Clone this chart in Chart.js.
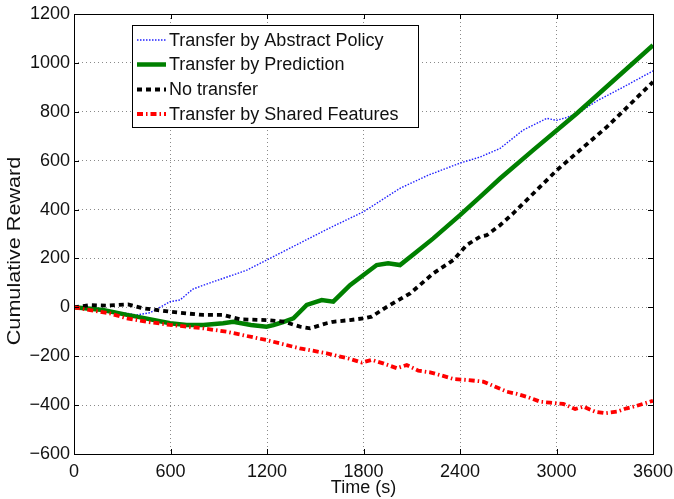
<!DOCTYPE html>
<html>
<head>
<meta charset="utf-8">
<title>Cumulative Reward over Time</title>
<script src="https://cdn.jsdelivr.net/npm/chart.js@4.4.1/dist/chart.umd.min.js"></script>
<style>
  html, body { margin: 0; padding: 0; background: #fff; }
  #wrap { width: 674px; height: 499px; }
</style>
</head>
<body>
<div id="wrap"><canvas id="c" width="674" height="499"></canvas></div>
<script>
// Axis ticks
const xTicks = [0, 600, 1200, 1800, 2400, 3000, 3600];
const yTicks = [-600, -400, -200, 0, 200, 400, 600, 800, 1000, 1200];

// Series: time (s) and cumulative reward
const seriesLabels = [
  'Transfer by Abstract Policy',
  'Transfer by Prediction',
  'No transfer',
  'Transfer by Shared Features'
];

const timeAbstract = [0, 150, 336, 390, 473, 523, 597, 659, 740, 877, 1074, 1200, 1405, 1600, 1800, 2027, 2200, 2400, 2525, 2649, 2792, 2940, 3000, 3066, 3147, 3250, 3415, 3600];
const rewardAbstract = [0, -12, -25, -31, -22, -4, 23, 30, 75, 107, 152, 194, 263, 328, 391, 487, 540, 590, 615, 650, 725, 773, 765, 777, 800, 844, 901, 967];

const timePrediction = [0, 180, 330, 390, 597, 700, 804, 927, 990, 1100, 1197, 1240, 1300, 1364, 1405, 1447, 1540, 1612, 1716, 1800, 1882, 1953, 2027, 2131, 2234, 2400, 2525, 2649, 2855, 3126, 3600];
const rewardPrediction = [0, -11, -31, -38, -65, -72, -72, -65, -59, -72, -79, -73, -60, -45, -18, 10, 30, 23, 91, 132, 173, 180, 173, 227, 282, 377, 452, 527, 643, 793, 1072];

const timeNoTransfer = [0, 100, 203, 336, 430, 597, 700, 804, 927, 1032, 1197, 1300, 1405, 1468, 1571, 1612, 1716, 1800, 1851, 1945, 2090, 2234, 2358, 2442, 2525, 2566, 2649, 2732, 3002, 3313, 3600];
const rewardNoTransfer = [0, 9, 7, 12, -4, -18, -25, -31, -31, -49, -52, -58, -79, -86, -65, -59, -52, -45, -38, 2, 57, 139, 193, 255, 289, 295, 336, 385, 561, 738, 922];

const timeShared = [0, 100, 224, 328, 452, 597, 804, 950, 1197, 1405, 1571, 1716, 1789, 1851, 1922, 2007, 2069, 2141, 2214, 2276, 2359, 2442, 2545, 2608, 2691, 2753, 2825, 2898, 2960, 3043, 3116, 3167, 3240, 3302, 3375, 3437, 3499, 3600];
const rewardShared = [0, -11, -25, -45, -59, -72, -86, -100, -134, -168, -188, -211, -226, -215, -229, -249, -236, -259, -266, -277, -293, -297, -304, -322, -345, -354, -368, -386, -390, -395, -416, -406, -427, -433, -427, -413, -403, -382];

const FONT = "'Liberation Sans', Arial, Helvetica, sans-serif";

function points(ts, vs) { return ts.map((t, i) => ({ x: t, y: vs[i] })); }

const lineStyles = [
  { color: 'rgba(20,20,255,0.95)', width: 1.4, dash: [1.5, 1.5] },
  { color: '#008000', width: 4.5, dash: [] },
  { color: '#000000', width: 3.8, dash: [5, 4] },
  { color: '#ff0000', width: 3.8, dash: [6, 3, 1.5, 3] }
];

const seriesData = [
  points(timeAbstract, rewardAbstract),
  points(timePrediction, rewardPrediction),
  points(timeNoTransfer, rewardNoTransfer),
  points(timeShared, rewardShared)
];

const datasets = seriesData.map((d, i) => ({
  label: seriesLabels[i],
  data: d,
  borderColor: lineStyles[i].color,
  backgroundColor: lineStyles[i].color,
  borderWidth: lineStyles[i].width,
  borderDash: lineStyles[i].dash,
  pointRadius: 0,
  tension: 0,
  fill: false,
  order: 4 - i
}));

// Box around the plot area with inward tick marks on all four sides
const framePlugin = {
  id: 'frame',
  afterDatasetsDraw(chart) {
    const { ctx, chartArea: a, scales } = chart;
    ctx.save();
    ctx.strokeStyle = '#000';
    ctx.lineWidth = 1;
    ctx.setLineDash([]);
    ctx.strokeRect(Math.round(a.left) + 0.5, Math.round(a.top) + 0.5,
                   Math.round(a.right - a.left), Math.round(a.bottom - a.top));
    const len = 5;
    ctx.beginPath();
    xTicks.forEach(v => {
      const px = Math.round(scales.x.getPixelForValue(v)) + 0.5;
      ctx.moveTo(px, a.bottom); ctx.lineTo(px, a.bottom - len);
      ctx.moveTo(px, a.top); ctx.lineTo(px, a.top + len);
    });
    yTicks.forEach(v => {
      const py = Math.round(scales.y.getPixelForValue(v)) + 0.5;
      ctx.moveTo(a.left, py); ctx.lineTo(a.left + len, py);
      ctx.moveTo(a.right, py); ctx.lineTo(a.right - len, py);
    });
    ctx.stroke();
    ctx.restore();
  }
};

// Boxed legend inside the plot, plus the rotated y-axis caption
const legendPlugin = {
  id: 'boxLegend',
  afterDraw(chart) {
    const { ctx } = chart;
    const bx = 132, by = 25, bw = 286, bh = 102;
    ctx.save();
    ctx.fillStyle = '#fff';
    ctx.fillRect(bx, by, bw, bh);
    ctx.strokeStyle = '#000';
    ctx.lineWidth = 1;
    ctx.setLineDash([]);
    ctx.strokeRect(bx + 0.5, by + 0.5, bw, bh);
    const rowY = [40, 64.5, 89.5, 114];
    chart.data.datasets.forEach((ds, i) => {
      const y = rowY[i];
      ctx.beginPath();
      ctx.strokeStyle = ds.borderColor;
      ctx.lineWidth = ds.borderWidth;
      ctx.setLineDash(ds.borderDash);
      ctx.moveTo(137, y);
      ctx.lineTo(166, y);
      ctx.stroke();
      ctx.setLineDash([]);
      ctx.fillStyle = '#111';
      ctx.font = '18px ' + FONT;
      ctx.textBaseline = 'middle';
      ctx.textAlign = 'left';
      ctx.fillText(ds.label, 169, y + 1);
    });
    // y-axis caption
    ctx.translate(20, 251);
    ctx.rotate(-Math.PI / 2);
    ctx.scale(1.2, 1);
    ctx.font = '18px ' + FONT;
    ctx.fillStyle = '#111';
    ctx.textAlign = 'center';
    ctx.textBaseline = 'alphabetic';
    ctx.fillText('Cumulative Reward', 0, 0);
    ctx.restore();
  }
};

const gridOpts = { color: '#8a8a8a', lineWidth: 1, drawTicks: false };

new Chart(document.getElementById('c'), {
  type: 'line',
  data: { datasets },
  options: {
    responsive: false,
    animation: false,
    devicePixelRatio: 1,
    layout: { padding: { left: 0, right: 21, top: 14, bottom: 0 } },
    plugins: { legend: { display: false }, tooltip: { enabled: false } },
    scales: {
      x: {
        type: 'linear',
        min: 0, max: 3600,
        afterBuildTicks(scale) { scale.ticks = xTicks.map(v => ({ value: v })); },
        afterFit(scale) { scale.height = 45; scale.paddingLeft = 0; scale.paddingRight = 0; },
        grid: gridOpts,
        border: { display: false, dash: [1, 3] },
        ticks: {
          color: '#111', font: { family: FONT, size: 18 }, padding: 7, maxRotation: 0,
          callback: v => String(v)
        },
        title: { display: true, text: 'Time (s)', color: '#111', font: { family: FONT, size: 18 }, padding: { top: 0, bottom: 0 } }
      },
      y: {
        type: 'linear',
        min: -600, max: 1200,
        afterBuildTicks(scale) { scale.ticks = yTicks.map(v => ({ value: v })); },
        afterFit(scale) { scale.width = 74; scale.paddingTop = 0; scale.paddingBottom = 0; },
        grid: gridOpts,
        border: { display: false, dash: [1, 3] },
        ticks: {
          color: '#111', font: { family: FONT, size: 18 }, padding: 4,
          callback: v => (v < 0 ? '\u2212' + Math.abs(v) : String(v))
        }
      }
    }
  },
  plugins: [framePlugin, legendPlugin]
});
</script>
</body>
</html>
